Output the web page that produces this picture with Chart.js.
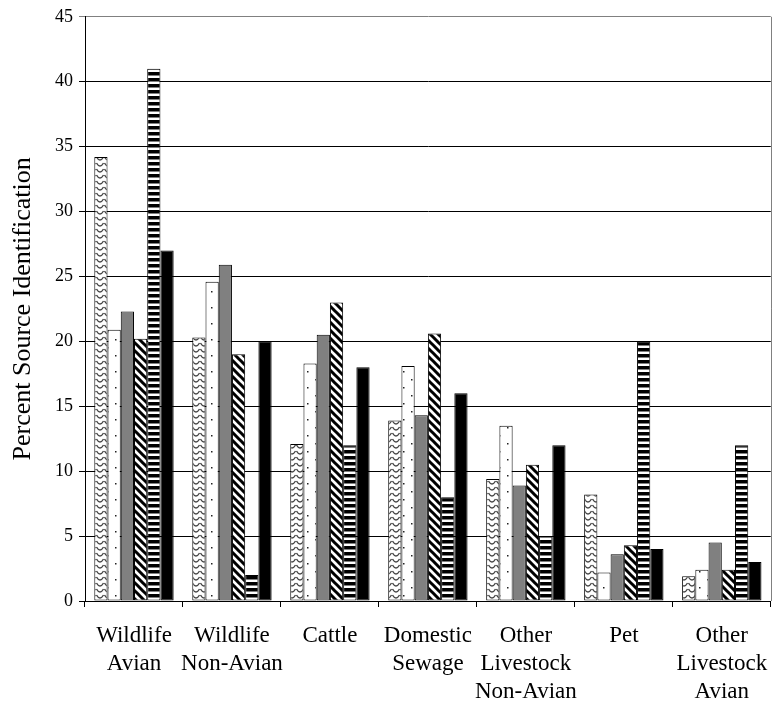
<!DOCTYPE html>
<html>
<head>
<meta charset="utf-8">
<script src="https://cdn.jsdelivr.net/npm/chart.js@4/dist/chart.umd.min.js"></script>
<style>
	html, body { margin: 0; padding: 0; background: #fff; }
	#chart { display: block; }
</style>
</head>
<body>
<canvas id="chart" width="783" height="705"></canvas>
<script>
// categories (x axis), one entry per line of the label
const categories = [
	['Wildlife', 'Avian'],
	['Wildlife', 'Non-Avian'],
	['Cattle'],
	['Domestic', 'Sewage'],
	['Other', 'Livestock', 'Non-Avian'],
	['Pet'],
	['Other', 'Livestock', 'Avian']
];

// series values, percent
const seriesWave    = [34.2, 20.3, 12.1, 13.9, 9.4, 8.2, 1.9];
const seriesDots    = [20.9, 24.6, 18.3, 18.1, 13.5, 2.2, 2.4];
const seriesGray    = [22.3, 25.9, 20.5, 14.3, 8.9, 3.6, 4.5];
const seriesDiag    = [20.2, 19.0, 23.0, 20.6, 10.5, 4.3, 2.4];
const seriesStripes = [41.0, 2.0, 12.0, 8.0, 5.0, 20.0, 12.0];
const seriesBlack   = [27.0, 20.0, 18.0, 16.0, 12.0, 4.0, 3.0];

const yTicks = [0, 5, 10, 15, 20, 25, 30, 35, 40, 45];

const FONT = "'Liberation Serif', 'Times New Roman', serif";

function makePattern(w, h, draw) {
	let c = document.createElement('canvas');
	c.width = w;
	c.height = h;
	let ctx = c.getContext('2d');
	ctx.fillStyle = '#fff';
	ctx.fillRect(0, 0, w, h);
	draw(ctx);
	return ctx.createPattern(c, 'repeat');
}

// gray arcs, like rows of "u"
const wavePattern = makePattern(8, 6, (ctx) => {
	ctx.strokeStyle = '#444';
	ctx.lineWidth = 1.3;
	ctx.beginPath();
	ctx.moveTo(0.5, 1);
	ctx.quadraticCurveTo(4, 7, 7.5, 1);
	ctx.stroke();
});

// sparse dots in a diagonal grid
const dotPattern = makePattern(16, 16, (ctx) => {
	ctx.fillStyle = '#222';
	ctx.fillRect(3, 3, 1.5, 1.5);
	ctx.fillRect(11, 11, 1.5, 1.5);
});

// thick "\" stripes
const diagPattern = makePattern(8, 8, (ctx) => {
	ctx.strokeStyle = '#000';
	ctx.lineWidth = 3;
	ctx.beginPath();
	ctx.moveTo(-2, -2); ctx.lineTo(10, 10);
	ctx.moveTo(-2, 6); ctx.lineTo(2, 10);
	ctx.moveTo(6, -2); ctx.lineTo(10, 2);
	ctx.stroke();
});

// horizontal black stripes
const stripePattern = makePattern(4, 6, (ctx) => {
	ctx.fillStyle = '#000';
	ctx.fillRect(0, 0, 4, 3.5);
});

function dataset(label, data, fill) {
	return {
		label: label,
		data: data,
		backgroundColor: fill,
		borderColor: '#000',
		borderWidth: 1,
		borderSkipped: false,
		categoryPercentage: 0.81,
		barPercentage: 1.0
	};
}

// gray border on the right side of the plot area
const plotBorder = {
	id: 'plotBorder',
	afterDraw(chart) {
		const a = chart.chartArea;
		const ctx = chart.ctx;
		ctx.save();
		ctx.strokeStyle = '#808080';
		ctx.lineWidth = 1;
		ctx.beginPath();
		ctx.moveTo(Math.round(a.right) + 0.5, a.top);
		ctx.lineTo(Math.round(a.right) + 0.5, a.bottom);
		ctx.stroke();
		ctx.restore();
	}
};

new Chart(document.getElementById('chart'), {
	type: 'bar',
	data: {
		labels: categories,
		datasets: [
			dataset('Series 1', seriesWave, wavePattern),
			dataset('Series 2', seriesDots, dotPattern),
			dataset('Series 3', seriesGray, '#808080'),
			dataset('Series 4', seriesDiag, diagPattern),
			dataset('Series 5', seriesStripes, stripePattern),
			dataset('Series 6', seriesBlack, '#000')
		]
	},
	options: {
		responsive: false,
		animation: false,
		devicePixelRatio: 1,
		layout: { padding: { top: 14, right: 12, bottom: 0, left: 0 } },
		plugins: {
			legend: { display: false },
			tooltip: { enabled: false }
		},
		scales: {
			x: {
				offset: true,
				grid: {
					offset: true,
					drawOnChartArea: false,
					drawTicks: true,
					tickLength: 6,
					color: '#000'
				},
				border: { color: '#000', width: 1 },
				ticks: {
					color: '#000',
					font: { family: FONT, size: 23, lineHeight: 1.22 },
					padding: 15,
					maxRotation: 0,
					autoSkip: false
				},
				afterFit: (scale) => { scale.height = 104; }
			},
			y: {
				min: 0,
				max: 45,
				afterBuildTicks: (scale) => { scale.ticks = yTicks.map((v) => ({ value: v })); },
				grid: {
					color: (ctx) => (ctx.tick && ctx.tick.value === 45) ? '#808080' : '#000',
					tickLength: 6,
					lineWidth: 1
				},
				border: { color: '#000', width: 1 },
				ticks: {
					color: '#000',
					font: { family: FONT, size: 18 },
					padding: 6
				},
				title: {
					display: true,
					text: 'Percent Source Identification',
					color: '#000',
					font: { family: FONT, size: 26 },
					padding: { top: 8, bottom: 0 }
				},
				afterFit: (scale) => { scale.width = 85; }
			}
		}
	},
	plugins: [plotBorder]
});
</script>
</body>
</html>
